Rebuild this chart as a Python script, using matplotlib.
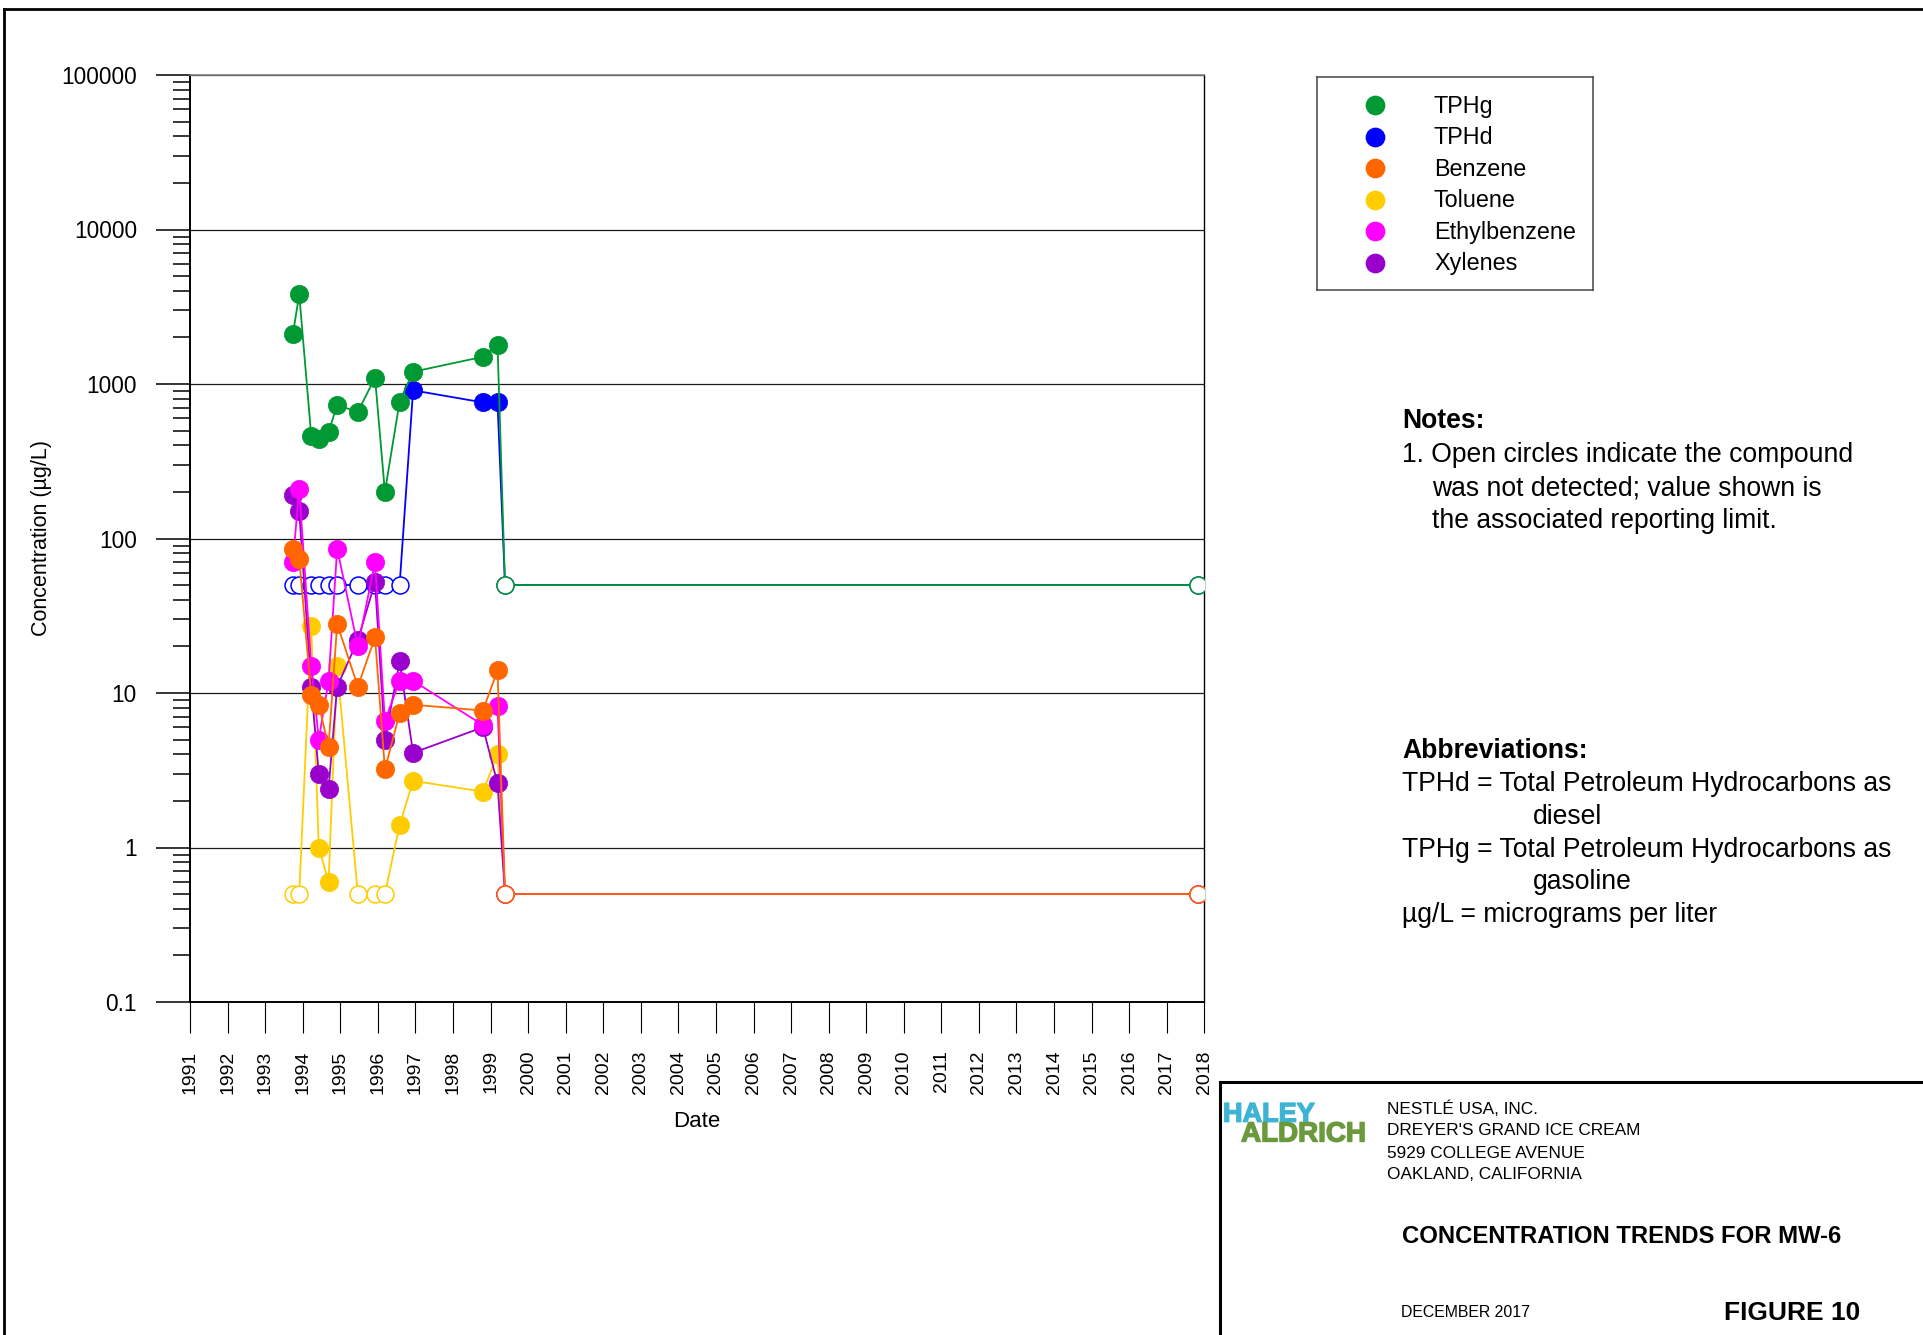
import matplotlib
matplotlib.use("Agg")
import matplotlib.pyplot as plt
import matplotlib.dates as mdates
import matplotlib.patheffects as pe
from matplotlib.ticker import LogLocator, NullFormatter, FixedLocator
from matplotlib.lines import Line2D
import pandas as pd

plt.rcParams['font.family'] = ['Liberation Sans', 'DejaVu Sans']

# ---- monitoring well MW-6 results (ug/L) ----
sample_dates = ["1993-09-27", "1993-11-28", "1994-03-25", "1994-06-06",
                "1994-09-09", "1994-12-02", "1995-06-21", "1995-12-05",
                "1996-03-10", "1996-07-31", "1996-12-09", "1998-10-19",
                "1999-03-10", "1999-05-22", "2017-11-03"]

tphg = [2100, 3800, 460, 440, 490, 730, 660, 1100, 200, 770, 1200, 1500, 1800, 50, 50]
tphg_detected = [1, 1, 1, 1, 1, 1, 1, 1, 1, 1, 1, 1, 1, 0, 0]

tphd = [50, 50, 50, 50, 50, 50, 50, 50, 50, 50, 910, 760, 760, 50, 50]
tphd_detected = [0, 0, 0, 0, 0, 0, 0, 0, 0, 0, 1, 1, 1, 0, 0]

benzene = [85, 74, 9.7, 8.4, 4.5, 28, 11, 23, 3.2, 7.4, 8.4, 7.7, 14, 0.5, 0.5]
benzene_detected = [1, 1, 1, 1, 1, 1, 1, 1, 1, 1, 1, 1, 1, 0, 0]

toluene = [0.5, 0.5, 27, 1.0, 0.6, 15, 0.5, 0.5, 0.5, 1.4, 2.7, 2.3, 4.0, 0.5, 0.5]
toluene_detected = [0, 0, 1, 1, 1, 1, 0, 0, 0, 1, 1, 1, 1, 0, 0]

ethylbenzene = [70, 210, 15, 5.0, 12, 86, 20, 70, 6.6, 12, 12, 6.2, 8.2, 0.5, 0.5]
ethylbenzene_detected = [1, 1, 1, 1, 1, 1, 1, 1, 1, 1, 1, 1, 1, 0, 0]

xylenes = [190, 150, 11, 3.0, 2.4, 11, 22, 52, 5.0, 16, 4.1, 6.0, 2.6, 0.5, 0.5]
xylenes_detected = [1, 1, 1, 1, 1, 1, 1, 1, 1, 1, 1, 1, 1, 0, 0]

legend_names = ["TPHg", "TPHd", "Benzene", "Toluene", "Ethylbenzene", "Xylenes"]
colors = {"TPHg": "#009933", "TPHd": "#0000FF", "Benzene": "#FF6600",
          "Toluene": "#FFCC00", "Ethylbenzene": "#FF00FF", "Xylenes": "#9900CC"}

year_ticks = list(range(1991, 2019))
y_ticks = [0.1, 1, 10, 100, 1000, 10000, 100000]
y_ticklabels = ["0.1", "1", "10", "100", "1000", "10000", "100000"]

# drawing order, bottom to top
series = [("TPHd", tphd, tphd_detected),
          ("Toluene", toluene, toluene_detected),
          ("Xylenes", xylenes, xylenes_detected),
          ("Ethylbenzene", ethylbenzene, ethylbenzene_detected),
          ("Benzene", benzene, benzene_detected),
          ("TPHg", tphg, tphg_detected)]

W, H = 1923, 1335
fig = plt.figure(figsize=(W / 100, H / 100), dpi=100, facecolor="white")


def fx(x):
    return x / W


def fy(y):
    return 1 - y / H


ax = fig.add_axes([fx(190), fy(1002), (1204.3 - 190) / W, (1002 - 75) / H])

dates = pd.to_datetime(sample_dates)
ms = 13.2
for z, (name, vals, det) in enumerate(series):
    c = colors[name]
    base = 3 + z * 3
    ax.plot(dates, vals, color=c, lw=1.3, zorder=base)
    fd = [d for d, k in zip(dates, det) if k]
    fv = [v for v, k in zip(vals, det) if k]
    od = [d for d, k in zip(dates, det) if not k]
    ov = [v for v, k in zip(vals, det) if not k]
    ax.plot(fd, fv, ls="none", marker="o", ms=ms, color=c, mec=c, mew=0.5,
            zorder=base + 1)
    ax.plot(od, ov, ls="none", marker="o", ms=ms - 1.0, mfc="white", mec=c,
            mew=1.1, zorder=base + 1)

ax.set_yscale("log")
ax.set_ylim(0.1, 100000)
ax.set_yticks(y_ticks)
ax.set_yticklabels(y_ticklabels)
ax.yaxis.set_minor_locator(LogLocator(base=10, subs=range(2, 10)))
ax.yaxis.set_minor_formatter(NullFormatter())

year_dates = pd.to_datetime([f"{y}-01-01" for y in year_ticks])
ax.set_xlim(year_dates[0], year_dates[-1])
ax.xaxis.set_major_locator(FixedLocator(mdates.date2num(year_dates)))
ax.set_xticklabels([str(y) for y in year_ticks])

ax.tick_params(axis="y", which="major", length=24.7, width=1.1, pad=13.5,
               labelsize=16.3, direction="out")
ax.tick_params(axis="y", which="minor", length=12.5, width=1.1, direction="out")
ax.tick_params(axis="x", which="major", length=22.3, width=0.8, pad=12.5,
               labelsize=14, labelrotation=90, direction="out")

ax.yaxis.grid(True, which="major", color="#1a1a1a", lw=0.9)
ax.set_axisbelow(True)

for side in ("left", "bottom"):
    ax.spines[side].set_linewidth(1.4)
    ax.spines[side].set_color("black")
ax.spines["right"].set_linewidth(1.0)
ax.spines["right"].set_color("black")
ax.spines["top"].set_linewidth(1.2)
ax.spines["top"].set_color("#808080")

ax.set_ylabel("Concentration (\u00b5g/L)", fontsize=15.5)
ax.yaxis.set_label_coords(-0.146, 0.5)
ax.yaxis.label.set_va("center")
ax.set_xlabel("Date", fontsize=16)
ax.xaxis.set_label_coords(0.5, -0.129)
ax.xaxis.label.set_va("center")

# ---- legend box ----
lx0, ly0, lx1, ly1 = 1316.7, 76.7, 1593.3, 290.0
lax = fig.add_axes([fx(lx0), fy(ly1), (lx1 - lx0) / W, (ly1 - ly0) / H])
lax.set_xlim(lx0, lx1)
lax.set_ylim(ly1, ly0)
lax.set_xticks([])
lax.set_yticks([])
for s in lax.spines.values():
    s.set_color("#444444")
    s.set_linewidth(1.1)
for i, name in enumerate(legend_names):
    yy = 105 + i * 31.55
    lax.plot([1375], [yy], ls="none", marker="o", ms=ms, color=colors[name],
             mec=colors[name])
    lax.text(1434, yy + 1.2, name, va="center", ha="left", fontsize=16.8)

# ---- notes ----
fs_note = 19.1
dy = 1.5
fig.text(fx(1402), fy(420 + dy), "Notes:", fontsize=fs_note, fontweight="bold", va="center")
fig.text(fx(1402), fy(453.8 + dy), "1. Open circles indicate the compound", fontsize=fs_note, va="center")
fig.text(fx(1432), fy(486.9 + dy), "was not detected; value shown is", fontsize=fs_note, va="center")
fig.text(fx(1432), fy(520.0 + dy), "the associated reporting limit.", fontsize=fs_note, va="center")

fig.text(fx(1402), fy(749.3 + dy), "Abbreviations:", fontsize=fs_note, fontweight="bold", va="center")
fig.text(fx(1402), fy(782.4 + dy), "TPHd = Total Petroleum Hydrocarbons as", fontsize=fs_note, va="center")
fig.text(fx(1533), fy(815.5 + dy), "diesel", fontsize=fs_note, va="center")
fig.text(fx(1402), fy(848.7 + dy), "TPHg = Total Petroleum Hydrocarbons as", fontsize=fs_note, va="center")
fig.text(fx(1533), fy(880.5 + dy), "gasoline", fontsize=fs_note, va="center")
fig.text(fx(1402), fy(913.7 + dy), "\u00b5g/L = micrograms per liter", fontsize=fs_note, va="center")

# ---- sheet border and title block ----
fig.add_artist(Line2D([fx(3.5), fx(3.5)], [fy(8.5), 0], transform=fig.transFigure,
                      color="black", lw=2.0))
fig.add_artist(Line2D([fx(3.5), 1], [fy(8.5), fy(8.5)], transform=fig.transFigure,
                      color="black", lw=2.0))
fig.add_artist(Line2D([fx(1219.5), fx(1219.5)], [fy(1081.5), 0], transform=fig.transFigure,
                      color="black", lw=2.2))
fig.add_artist(Line2D([fx(1219.5), 1], [fy(1081.5), fy(1081.5)], transform=fig.transFigure,
                      color="black", lw=2.2))

# company mark: two stacked words
fig.text(fx(1223), fy(1121.7), "HALEY", fontsize=19.5, fontweight="bold", color="#3DB3D5",
         va="baseline", ha="left",
         path_effects=[pe.withStroke(linewidth=1.0, foreground="#3DB3D5")])
fig.text(fx(1241), fy(1141.5), "ALDRICH", fontsize=20, fontweight="bold", color="#6A9A3C",
         va="baseline", ha="left",
         path_effects=[pe.withStroke(linewidth=1.0, foreground="#6A9A3C")])

fs_addr = 12.4
fig.text(fx(1387), fy(1109.0), "NESTL\u00c9 USA, INC.", fontsize=fs_addr, va="center")
fig.text(fx(1387), fy(1130.8), "DREYER'S GRAND ICE CREAM", fontsize=fs_addr, va="center")
fig.text(fx(1387), fy(1153.2), "5929 COLLEGE AVENUE", fontsize=fs_addr, va="center")
fig.text(fx(1387), fy(1174.8), "OAKLAND, CALIFORNIA", fontsize=fs_addr, va="center")

fig.text(fx(1402), fy(1236.5), "CONCENTRATION TRENDS FOR MW-6", fontsize=17.2,
         fontweight="bold", va="center")
fig.text(fx(1401), fy(1312.5), "DECEMBER 2017", fontsize=11.4, va="center")
fig.text(fx(1724), fy(1312.5), "FIGURE 10", fontsize=19, fontweight="bold", va="center")

fig.savefig("out.png", dpi=100, facecolor="white")
